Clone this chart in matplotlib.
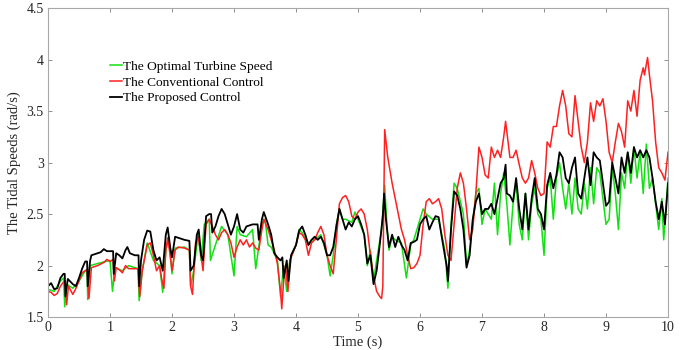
import matplotlib
matplotlib.use("Agg")
import matplotlib.pyplot as plt
from matplotlib.ticker import FormatStrFormatter, MultipleLocator

plt.rcParams["font.family"] = ["Liberation Serif", "DejaVu Serif"]

# optimal turbine speed (green)
t_opt = [0.0, 0.1, 0.2, 0.25, 0.27, 0.3, 0.4, 0.5, 0.6, 0.63, 0.64, 0.68, 0.8, 1.0,
         1.04, 1.08, 1.2, 1.3, 1.45, 1.47, 1.52, 1.6, 1.7, 1.8, 1.85, 1.9, 1.95, 2.0,
         2.05, 2.2, 2.28, 2.3, 2.35, 2.42, 2.47, 2.52, 2.6, 2.62, 2.7, 2.8, 2.9, 3.0,
         3.05, 3.1, 3.2, 3.3, 3.35, 3.45, 3.5, 3.55, 3.6, 3.7, 3.75, 3.8, 3.85, 3.9,
         4.0, 4.05, 4.1, 4.2, 4.25, 4.3, 4.4, 4.45, 4.5, 4.55, 4.6, 4.65, 4.7, 4.75,
         4.8, 4.9, 4.95, 5.0, 5.1, 5.15, 5.2, 5.25, 5.3, 5.38, 5.43, 5.47, 5.5, 5.55,
         5.6, 5.7, 5.78, 5.85, 5.9, 6.0, 6.05, 6.1, 6.2, 6.3, 6.4, 6.45, 6.5, 6.55,
         6.6, 6.7, 6.75, 6.8, 6.9, 6.95, 7.0, 7.05, 7.15, 7.2, 7.25, 7.3, 7.35, 7.4,
         7.45, 7.5, 7.55, 7.6, 7.65, 7.7, 7.75, 7.8, 7.85, 7.9, 7.95, 8.0, 8.05, 8.1,
         8.15, 8.2, 8.25, 8.3, 8.35, 8.4, 8.45, 8.5, 8.55, 8.6, 8.65, 8.7, 8.75, 8.8,
         8.85, 8.9, 8.95, 9.0, 9.05, 9.1, 9.15, 9.2, 9.25, 9.3, 9.35, 9.4, 9.45, 9.5,
         9.55, 9.6, 9.65, 9.7, 9.75, 9.8, 9.85, 9.9, 9.93, 9.97, 10.0]
w_opt = [1.77, 1.75, 1.85, 1.88, 1.60, 1.82, 1.78, 1.85, 1.95, 1.96, 1.67, 2.00, 2.02, 2.05,
         1.75, 1.98, 1.95, 2.00, 1.97, 1.66, 1.95, 2.22, 2.05, 2.00, 1.74, 2.15, 2.27, 1.92,
         2.17, 2.18, 2.15, 1.80, 1.95, 2.30, 2.05, 2.40, 2.45, 2.05, 2.20, 2.38, 2.30, 1.90,
         2.38, 2.30, 2.28, 2.35, 1.97, 2.40, 2.45, 2.20, 2.18, 2.05, 1.70, 2.00, 1.75, 2.05,
         2.20, 2.35, 2.32, 2.20, 2.25, 2.25, 2.30, 2.20, 2.10, 1.90, 2.10, 2.40, 2.55, 2.45,
         2.45, 2.42, 2.52, 2.45, 2.30, 2.00, 2.15, 1.85, 2.05, 2.35, 2.78, 2.35, 2.15, 2.28,
         2.25, 2.22, 1.88, 2.20, 2.25, 2.45, 2.55, 2.50, 2.45, 2.45, 2.15, 1.78, 2.40, 2.80,
         2.75, 2.50, 2.00, 2.15, 2.70, 2.75, 2.40, 2.55, 2.45, 2.80, 2.30, 2.70, 2.90, 2.60,
         2.20, 2.60, 2.80, 2.40, 2.25, 2.70, 2.25, 2.60, 2.75, 2.50, 2.45, 2.10, 2.75, 2.85,
         2.45, 2.85, 3.00, 2.75, 2.55, 2.80, 2.50, 2.85, 2.55, 2.50, 2.80, 2.55, 2.95, 2.60,
         2.95, 2.90, 2.65, 2.40, 2.45, 2.95, 2.70, 2.35, 2.90, 2.75, 3.10, 2.80, 3.15, 2.85,
         3.10, 2.70, 3.18, 2.75, 2.85, 2.60, 2.35, 2.65, 2.25, 2.60, 2.85]

# conventional control (red)
t_conv = [0.0, 0.05, 0.1, 0.15, 0.2, 0.25, 0.28, 0.3, 0.33, 0.4, 0.45, 0.5, 0.55, 0.6,
          0.63, 0.66, 0.7, 0.8, 0.9, 0.95, 1.0, 1.05, 1.07, 1.1, 1.15, 1.2, 1.25, 1.3,
          1.35, 1.45, 1.48, 1.52, 1.6, 1.65, 1.7, 1.75, 1.8, 1.83, 1.87, 1.9, 1.93, 1.97,
          2.0, 2.05, 2.1, 2.2, 2.28, 2.3, 2.33, 2.38, 2.42, 2.45, 2.5, 2.55, 2.6, 2.65,
          2.7, 2.75, 2.8, 2.85, 2.9, 2.95, 3.0, 3.05, 3.1, 3.15, 3.2, 3.25, 3.3, 3.35,
          3.4, 3.45, 3.48, 3.55, 3.6, 3.65, 3.7, 3.75, 3.77, 3.8, 3.83, 3.87, 3.9, 4.0,
          4.05, 4.1, 4.15, 4.2, 4.25, 4.3, 4.35, 4.4, 4.45, 4.5, 4.55, 4.6, 4.65, 4.7,
          4.75, 4.8, 4.85, 4.9, 4.95, 5.0, 5.05, 5.1, 5.15, 5.2, 5.25, 5.3, 5.35, 5.38,
          5.4, 5.43, 5.48, 5.55, 5.6, 5.65, 5.7, 5.75, 5.8, 5.85, 5.9, 5.95, 6.0, 6.05,
          6.1, 6.15, 6.2, 6.25, 6.3, 6.35, 6.4, 6.45, 6.5, 6.55, 6.6, 6.65, 6.7, 6.75,
          6.8, 6.85, 6.9, 6.95, 7.0, 7.05, 7.1, 7.15, 7.2, 7.25, 7.3, 7.35, 7.38, 7.42,
          7.45, 7.5, 7.55, 7.6, 7.65, 7.7, 7.75, 7.8, 7.85, 7.9, 7.95, 8.0, 8.05, 8.1,
          8.15, 8.2, 8.25, 8.3, 8.35, 8.4, 8.45, 8.5, 8.55, 8.6, 8.65, 8.7, 8.75, 8.8,
          8.85, 8.9, 8.95, 9.0, 9.05, 9.1, 9.15, 9.2, 9.25, 9.3, 9.35, 9.4, 9.45, 9.5,
          9.55, 9.6, 9.62, 9.67, 9.7, 9.75, 9.8, 9.85, 9.9, 9.95, 10.0]
w_conv = [1.75, 1.74, 1.71, 1.73, 1.80, 1.84, 1.85, 1.62, 1.80, 1.72, 1.78, 1.85, 1.93, 1.95,
          1.96, 1.68, 1.98, 2.00, 2.03, 2.06, 2.04, 2.06, 1.85, 1.98, 1.96, 1.93, 2.00, 1.97,
          1.97, 1.97, 1.70, 1.95, 2.20, 2.22, 2.10, 1.95, 2.00, 1.88, 1.78, 2.15, 2.27, 2.10,
          1.95, 2.15, 2.18, 2.17, 2.15, 1.80, 1.72, 2.22, 2.28, 2.18, 1.95, 2.40, 2.45, 2.38,
          2.30, 2.25, 2.32, 2.35, 2.30, 2.22, 2.08, 2.18, 2.25, 2.20, 2.25, 2.18, 2.22, 2.17,
          2.15, 2.35, 2.45, 2.35, 2.25, 2.15, 2.02, 1.75, 1.58, 1.85, 2.00, 1.75, 2.05, 2.20,
          2.32, 2.30, 2.25, 2.10, 2.22, 2.25, 2.32, 2.38, 2.30, 2.10, 2.00, 1.92, 2.25, 2.60,
          2.66, 2.68, 2.62, 2.48, 2.45, 2.52, 2.55, 2.50, 2.35, 2.10, 1.90, 1.75, 1.70, 1.68,
          1.80, 3.32, 3.05, 2.80, 2.65, 2.50, 2.35, 2.25, 2.10, 1.97, 1.98, 2.02, 2.10, 2.40,
          2.62, 2.65, 2.60, 2.62, 2.65, 2.55, 2.30, 2.10, 2.05, 2.40, 2.75, 2.90, 2.80, 2.55,
          2.25, 2.35, 2.70, 3.15, 3.05, 2.88, 2.85, 3.15, 3.05, 3.12, 3.05, 3.25, 3.40, 3.20,
          3.05, 3.05, 3.12, 2.98, 2.85, 2.80, 2.85, 3.02, 2.90, 2.75, 2.68, 2.70, 3.20, 3.15,
          3.35, 3.35, 3.55, 3.70, 3.55, 3.28, 3.25, 3.65, 3.40, 3.15, 3.00, 3.20, 3.58, 3.40,
          3.60, 3.55, 3.62, 3.40, 3.10, 3.00, 3.20, 3.38, 3.30, 3.15, 3.60, 3.50, 3.70, 3.45,
          3.80, 3.92, 3.85, 4.02, 3.85, 3.60, 3.20, 2.95, 2.90, 2.83, 3.10]

# proposed control (black)
t_prop = [0.0, 0.05, 0.1, 0.15, 0.2, 0.25, 0.27, 0.28, 0.32, 0.4, 0.45, 0.5, 0.55, 0.6,
          0.63, 0.64, 0.68, 0.7, 0.8, 0.85, 0.9, 0.95, 1.0, 1.05, 1.06, 1.1, 1.15, 1.2,
          1.25, 1.28, 1.32, 1.4, 1.46, 1.47, 1.5, 1.55, 1.6, 1.65, 1.7, 1.75, 1.8, 1.85,
          1.9, 1.93, 1.97, 2.0, 2.05, 2.1, 2.2, 2.28, 2.3, 2.35, 2.4, 2.43, 2.47, 2.5,
          2.55, 2.6, 2.63, 2.65, 2.7, 2.75, 2.8, 2.85, 2.9, 2.95, 3.0, 3.05, 3.1, 3.15,
          3.2, 3.3, 3.38, 3.4, 3.45, 3.48, 3.55, 3.6, 3.65, 3.7, 3.75, 3.78, 3.8, 3.85,
          3.88, 3.92, 4.0, 4.05, 4.1, 4.15, 4.2, 4.25, 4.3, 4.35, 4.4, 4.45, 4.5, 4.55,
          4.6, 4.65, 4.7, 4.75, 4.8, 4.85, 4.9, 4.95, 5.0, 5.05, 5.1, 5.15, 5.2, 5.25,
          5.3, 5.35, 5.4, 5.42, 5.45, 5.5, 5.55, 5.6, 5.65, 5.7, 5.75, 5.8, 5.85, 5.9,
          5.95, 6.0, 6.05, 6.1, 6.15, 6.2, 6.25, 6.3, 6.35, 6.4, 6.43, 6.45, 6.5, 6.55,
          6.6, 6.65, 6.7, 6.75, 6.8, 6.85, 6.9, 6.95, 7.0, 7.05, 7.1, 7.15, 7.2, 7.25,
          7.3, 7.35, 7.38, 7.4, 7.45, 7.5, 7.55, 7.6, 7.65, 7.7, 7.75, 7.8, 7.85, 7.9,
          7.95, 8.0, 8.05, 8.1, 8.15, 8.2, 8.25, 8.3, 8.35, 8.4, 8.45, 8.5, 8.55, 8.6,
          8.65, 8.7, 8.75, 8.8, 8.85, 8.9, 8.95, 9.0, 9.05, 9.1, 9.15, 9.2, 9.25, 9.3,
          9.35, 9.4, 9.45, 9.5, 9.55, 9.6, 9.65, 9.7, 9.75, 9.8, 9.85, 9.9, 9.95, 10.0]
w_prop = [1.80, 1.83, 1.77, 1.78, 1.88, 1.92, 1.92, 1.70, 1.87, 1.82, 1.80, 1.88, 1.97, 2.04,
          2.04, 1.80, 2.05, 2.10, 2.12, 2.13, 2.16, 2.14, 2.14, 2.14, 1.92, 2.12, 2.10, 2.07,
          2.15, 2.18, 2.12, 2.10, 2.10, 1.80, 2.05, 2.25, 2.34, 2.33, 2.15, 2.05, 2.08, 1.95,
          2.30, 2.37, 2.18, 2.08, 2.28, 2.27, 2.25, 2.24, 1.95, 2.00, 2.30, 2.35, 2.10, 2.05,
          2.48, 2.50, 2.50, 2.32, 2.38, 2.48, 2.55, 2.50, 2.40, 2.30, 2.38, 2.50, 2.35, 2.32,
          2.38, 2.40, 2.40, 2.25, 2.45, 2.52, 2.40, 2.30, 2.12, 2.08, 2.05, 2.08, 1.88, 2.05,
          1.85, 2.10, 2.20, 2.34, 2.38, 2.30, 2.20, 2.25, 2.28, 2.25, 2.28, 2.22, 2.10, 2.10,
          2.18, 2.38, 2.55, 2.45, 2.35, 2.42, 2.38, 2.45, 2.48, 2.40, 2.30, 2.02, 2.10, 1.82,
          1.95, 2.20, 2.48, 2.70, 2.45, 2.18, 2.30, 2.18, 2.28, 2.20, 2.15, 2.05, 2.22, 2.23,
          2.25, 2.40, 2.45, 2.48, 2.35, 2.42, 2.48, 2.47, 2.28, 2.10, 2.00, 1.85, 2.35, 2.72,
          2.68, 2.55, 2.35, 1.98, 2.10, 2.45, 2.62, 2.70, 2.50, 2.55, 2.55, 2.60, 2.50, 2.65,
          2.80, 2.85, 2.98, 2.70, 2.68, 2.62, 2.85, 2.55, 2.35, 2.70, 2.35, 2.65, 2.85, 2.55,
          2.50, 2.35, 2.78, 2.90, 2.75, 2.88, 3.10, 3.05, 2.85, 2.80, 2.95, 3.05, 2.70, 2.65,
          2.85, 3.05, 2.78, 3.10, 3.05, 3.02, 2.80, 2.58, 2.62, 3.00, 2.85, 2.70, 3.05, 2.90,
          3.10, 2.90, 3.15, 3.05, 3.12, 3.05, 3.12, 3.05, 2.85, 2.62, 2.45, 2.62, 2.40, 2.80]

fig = plt.figure(figsize=(6.8, 3.5), dpi=100)
ax = fig.add_axes([0.0706, 0.094, 0.9118, 0.883])

ax.plot(t_opt, w_opt, color="#12e012", lw=1.1, label="The Optimal Turbine Speed")
ax.plot(t_conv, w_conv, color="#ff2020", lw=1.1, label="The Conventional Control")
ax.plot(t_prop, w_prop, color="black", lw=1.3, label="The Proposed Control")

ax.set_xlim(0, 10)
ax.set_ylim(1.5, 4.5)
ax.xaxis.set_major_locator(MultipleLocator(1))
ax.yaxis.set_major_locator(MultipleLocator(0.5))
ax.yaxis.set_major_formatter(FormatStrFormatter("%g"))
ax.tick_params(direction="in", top=True, right=True, length=3, width=0.6,
               color="#808080", labelsize=10, labelcolor="#262626", pad=3)
for sp in ax.spines.values():
    sp.set_color("#a8a8a8")
    sp.set_linewidth(0.8)

ax.set_xlabel("Time (s)", fontsize=10.5, color="#262626", labelpad=1)
ax.set_ylabel("The Tidal Speeds (rad/s)", fontsize=10.5, color="#262626", labelpad=4)

ax.legend(loc="upper left", bbox_to_anchor=(0.1, 0.83), frameon=False,
          fontsize=9.6, handlelength=0.9, handletextpad=0.1, labelspacing=0.25,
          borderpad=0, borderaxespad=0)

fig.savefig("out.png", dpi=100)
